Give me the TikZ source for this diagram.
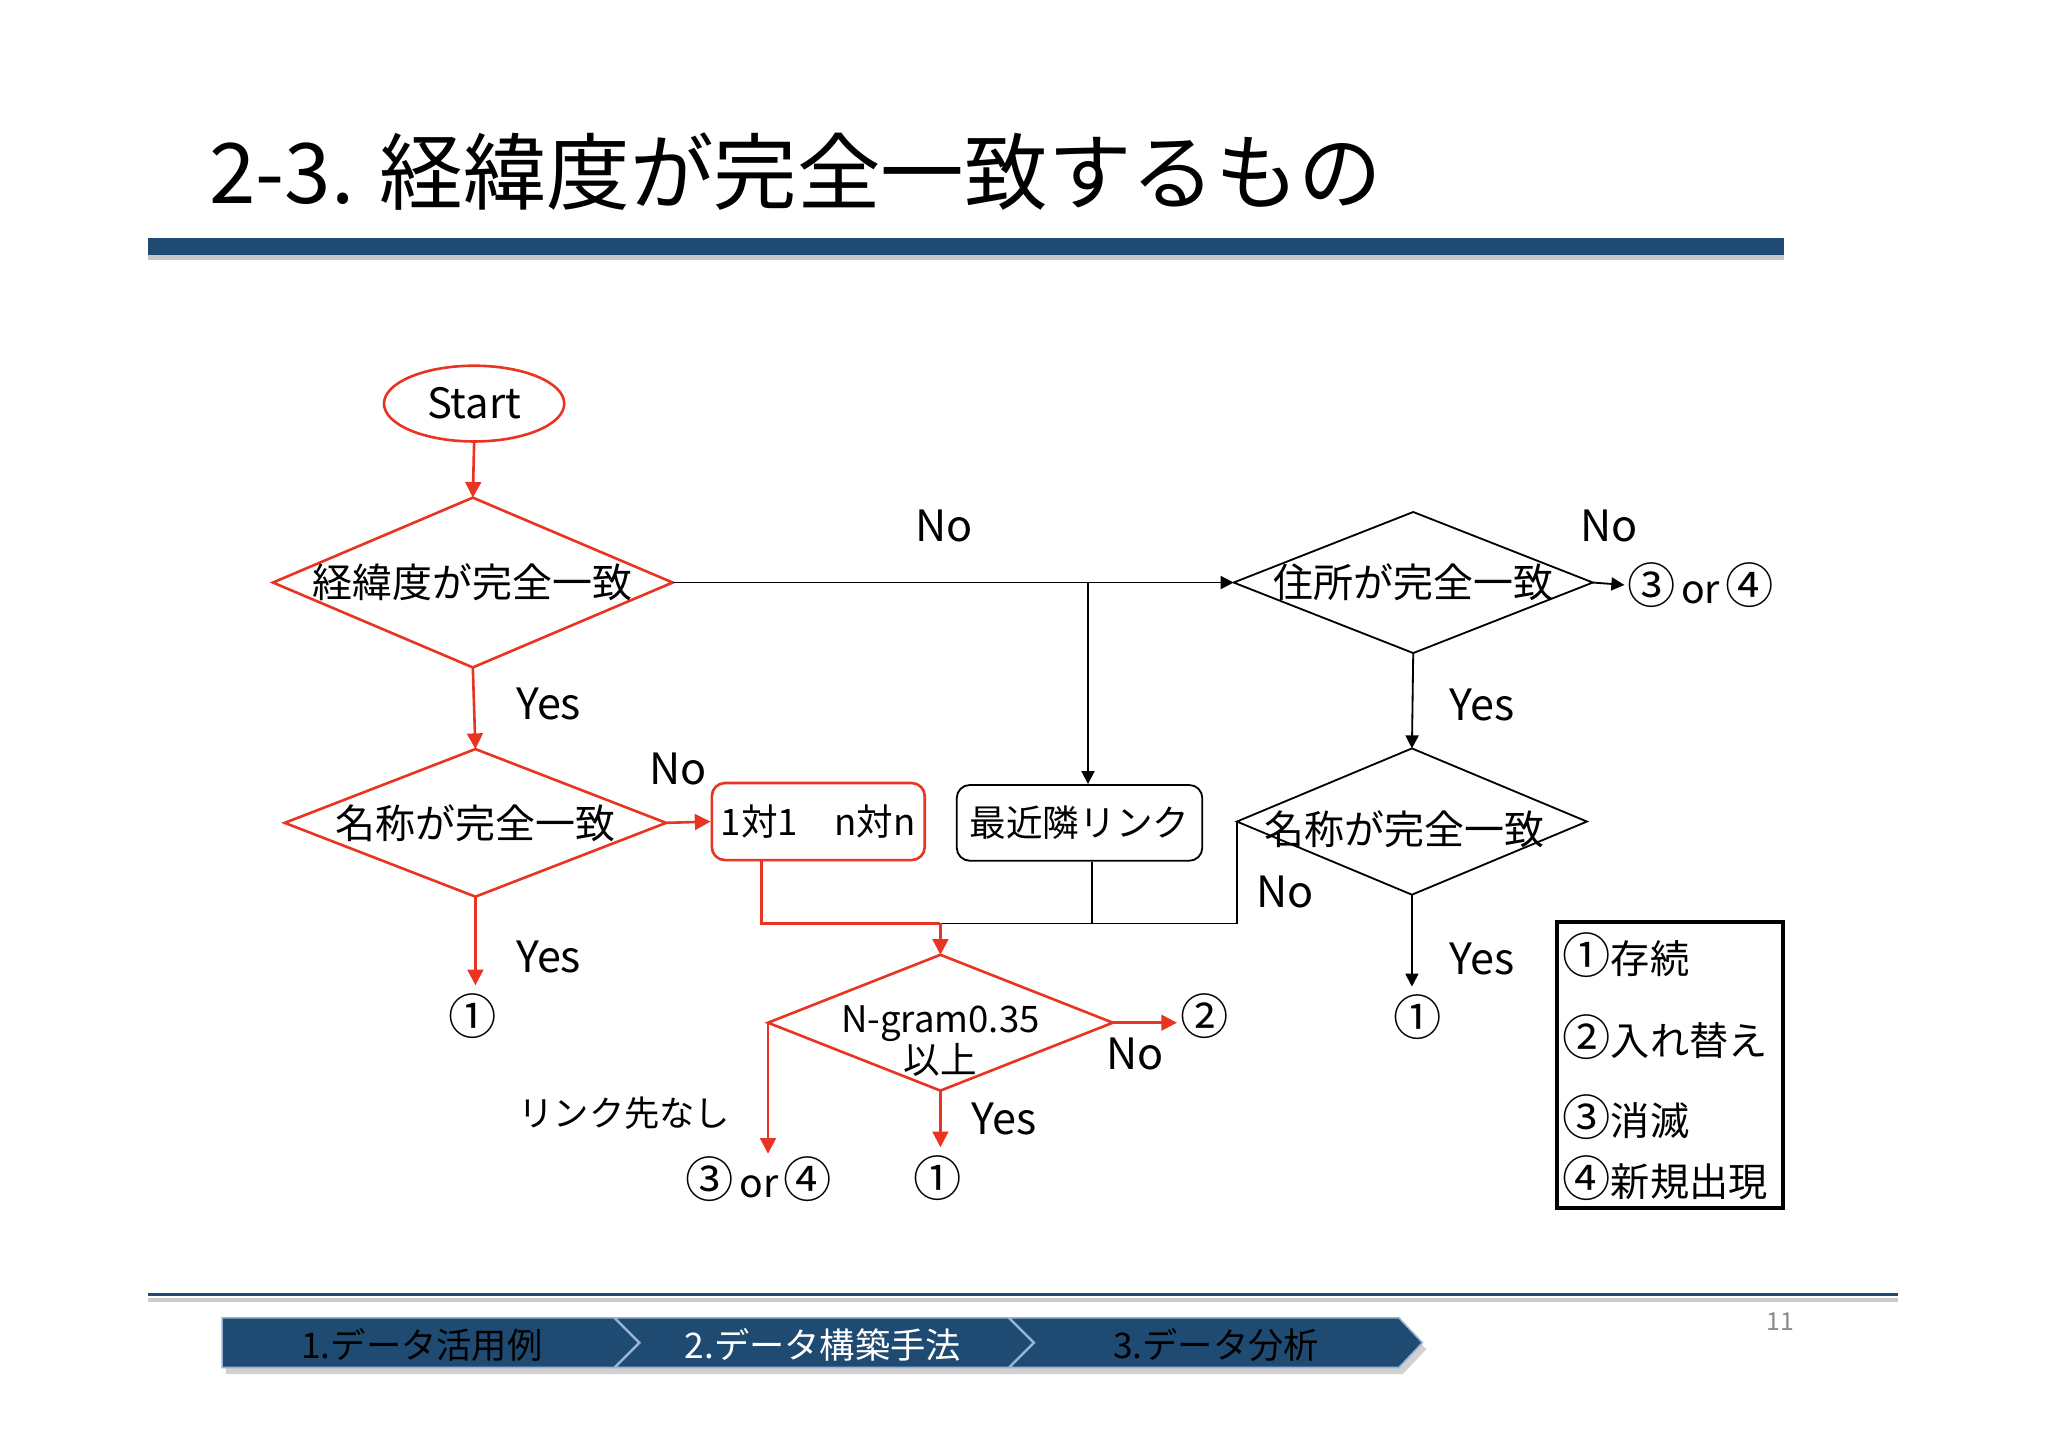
\documentclass[tikz,border=0pt]{standalone}
\usepackage{fontspec}
\setmainfont{Noto Sans CJK JP}
\usetikzlibrary{shapes.geometric,arrows.meta}
\definecolor{myred}{RGB}{232,52,32}
\definecolor{navy}{RGB}{31,74,114}
\definecolor{edgeblue}{RGB}{150,180,215}
\newcommand\myfs[1]{\fontsize{#1}{#1}\selectfont}
\newcommand\cn[1]{{\myfs{18.5}#1}}
\newcommand\orpair[2]{\cn{#1}\hspace{2pt}or\hspace{2pt}\cn{#2}}
\begin{document}
\begin{tikzpicture}[x=0.5pt,y=-0.5pt,
  redline/.style={draw=myred,line width=1pt},
  blkline/.style={draw=black,line width=0.7pt},
  rarrow/.style={redline,-{Triangle[length=6pt,width=6pt]}},
  barrow/.style={blkline,-{Triangle[length=5pt,width=5pt]}},
  dia/.style={diamond,inner sep=0pt,outer sep=0pt,font=\myfs{15.3}},
  rdia/.style={dia,draw=myred,line width=1pt},
  bdia/.style={dia,draw=black,line width=0.7pt},
  lbl/.style={font=\myfs{16.5},inner sep=0pt},
  circ/.style={font=\myfs{15},inner sep=0pt},
  legtxt/.style={font=\myfs{15},inner sep=0pt,anchor=west},
  foottxt/.style={font=\myfs{13.5},inner sep=0pt},
  chev/.style={fill=navy,draw=edgeblue,line width=0.6pt},
  chevshadow/.style={fill=black,opacity=0.18}
]
\useasboundingbox (0,0) rectangle (1568,1108);
\fill[white] (0,0) rectangle (1568,1108);

% title
\node[anchor=base west,inner sep=0pt,font=\myfs{32}] (title) at (160,156) {2-3. 経緯度が完全一致するもの};
\fill[black!22] (113,192) rectangle (1366,199);
\fill[navy] (113,182) rectangle (1366,195);

% flow nodes
\node[ellipse,redline,minimum width=69pt,minimum height=29pt,inner sep=0pt,font=\myfs{16}] (start) at (363,309) {Start};
\node[rdia,shape aspect=2.35,minimum width=153pt,minimum height=65pt] (d1) at (362,446) {\makebox[0pt]{経緯度が完全一致}};
\node[rdia,shape aspect=2.58,minimum width=146pt,minimum height=56.5pt] (d2) at (364,630) {\makebox[0pt]{名称が完全一致}};
\node[rectangle,rounded corners=5pt,redline,minimum width=81.5pt,minimum height=29.5pt,inner sep=0pt,font=\myfs{14}] (b1) at (626.5,629) {1対1　n対n};
\node[rectangle,rounded corners=5pt,blkline,minimum width=94pt,minimum height=29pt,inner sep=0pt,font=\myfs{14}] (b2) at (826.5,630) {最近隣リンク};
\node[bdia,shape aspect=2.55,minimum width=137.5pt,minimum height=54pt] (d3) at (1082,446) {\makebox[0pt]{住所が完全一致}};
\node[bdia,shape aspect=2.39,minimum width=134pt,minimum height=56pt] (d4) at (1081,629) {\makebox[0pt]{\hspace{-6pt}\raisebox{-8.8pt}[0pt][0pt]{名称が完全一致}}};
\node[rdia,shape aspect=2.54,minimum width=132pt,minimum height=52pt,font=\fontsize{14}{13.8}\selectfont] (d5) at (720,783) {\makebox[0pt]{\raisebox{-12pt}[0pt][0pt]{\begin{tabular}{@{}c@{}}N-gram0.35\\以上\end{tabular}}}};

% labels
\node[lbl] (no1) at (723,403) {No};
\node[lbl] (yes1) at (420,539) {Yes};
\node[lbl] (no2) at (519,589) {No};
\node[lbl] (yes2) at (420,733) {Yes};
\node[circ] (c1a) at (362,778) {\cn{①}};
\node[lbl] (no3) at (1232,403) {No};
\node[circ] (or1) at (1302,448) {\orpair{③}{④}};
\node[lbl] (yes3) at (1135,540) {Yes};
\node[lbl] (no4) at (984,683) {No};
\node[lbl] (yes4) at (1135,734) {Yes};
\node[circ] (c1b) at (1085,779) {\cn{①}};
\node[circ] (c2) at (922,778) {\cn{②}};
\node[lbl] (no5) at (869,807) {No};
\node[lbl] (yes5) at (769,857) {Yes};
\node[circ] (c1c) at (718,902) {\cn{①}};
\node[circ] (or2) at (581,903) {\orpair{③}{④}};
\node[font=\myfs{13.5},inner sep=0pt] (nolink) at (478,852) {リンク先なし};

% connectors
\draw[rarrow] (start.south) -- (d1.north);
\draw[rarrow] (d1.south) -- (d2.north);
\draw[rarrow] (d2.east) -- (b1.west);
\draw[rarrow,shorten >=3pt] (d2.south) -- (d2.south |- c1a.north);
\draw[barrow] (d1.east) -- (d3.west);
\coordinate (br) at (833,446);
\draw[barrow] (br) -- (br |- b2.north);
\draw[barrow,shorten >=1pt] (d3.east) -- (or1.west);
\draw[barrow] (d3.south) -- (d4.north);
\draw[barrow,shorten >=3pt] (d4.south) -- (d4.south |- c1b.north);
\coordinate (m) at (720,707);
\coordinate (j1) at (583,707);
\coordinate (j2) at (836,707);
\draw[blkline] (j2 |- b2.south) -- (j2);
\draw[blkline] (d4.west) -- (d4.west |- m) -- (m);
\draw[redline] (j1 |- b1.south) -- (j1) -- (m);
\draw[rarrow] (m) -- (d5.north);
\draw[rarrow,shorten >=1pt] (d5.east) -- (d5.east -| c2.west);
\draw[rarrow,shorten >=3pt] (d5.south) -- (d5.south |- c1c.north);
\draw[rarrow,shorten >=1pt] (d5.west) -- (d5.west |- or2.north);

% legend
\node[draw=black,line width=1.3pt,minimum width=86.5pt,minimum height=109.5pt,inner sep=0pt] (legend) at (1278.5,815.5) {};
\node[legtxt] (l1) at (1196,731) {\cn{①}存続};
\node[legtxt] (l2) at (1196,794) {\cn{②}入れ替え};
\node[legtxt] (l3) at (1196,855) {\cn{③}消滅};
\node[legtxt] (l4) at (1196,902) {\cn{④}新規出現};

% footer
\draw[black!20,line width=1.5pt] (113,995) -- (1453,995);
\draw[navy,line width=1.1pt] (113,991) -- (1453,991);
\node[text=black!45,font=\myfs{9.5},inner sep=0pt] (pg) at (1363,1012) {11};
\begin{scope}[shift={(3,5)}]
\fill[chevshadow] (170,1009) -- (1071,1009) -- (1089,1028) -- (1071,1047) -- (170,1047) -- cycle;
\end{scope}
\path[chev] (170,1009) -- (470,1009) -- (489,1028) -- (470,1047) -- (170,1047) -- cycle;
\path[chev] (471,1009) -- (772,1009) -- (791,1028) -- (772,1047) -- (471,1047) -- (490,1028) -- cycle;
\path[chev] (773,1009) -- (1071,1009) -- (1089,1028) -- (1071,1047) -- (773,1047) -- (792,1028) -- cycle;
\node[foottxt,text=black] (f1) at (323,1030) {1.データ活用例};
\node[foottxt,text=white] (f2) at (630,1030) {2.データ構築手法};
\node[foottxt,text=black] (f3) at (931,1030) {3.データ分析};
\end{tikzpicture}
\end{document}
